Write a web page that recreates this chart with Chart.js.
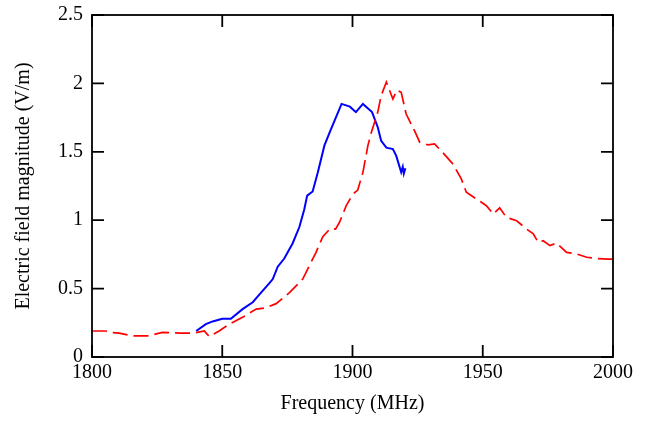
<!DOCTYPE html>
<html>
<head>
<meta charset="utf-8">
<script src="https://cdn.jsdelivr.net/npm/chart.js@4"></script>
<style>
  body { margin: 0; background: #fff; }
  #wrap { width: 655px; height: 421px; }
</style>
</head>
<body>
<div id="wrap"><canvas id="chart" width="655" height="421"></canvas></div>
<script>
// blue (solid) curve
const freqBlue = [1840, 1843.7, 1846.3, 1850, 1853.3, 1857.8, 1861.7, 1864.9, 1868.1, 1869.4,
  1871.3, 1873.8, 1877, 1879.6, 1881.5, 1882.6, 1884.7, 1886.7, 1889.2, 1891.2,
  1893.4, 1895.8, 1899, 1901.3, 1904, 1907.5, 1909.7, 1911, 1913, 1915.5,
  1916.8, 1918.7, 1919.3, 1919.7, 1920.3];
const fieldBlue = [0.19, 0.24, 0.26, 0.28, 0.28, 0.35, 0.40, 0.47, 0.54, 0.57,
  0.66, 0.72, 0.83, 0.95, 1.08, 1.18, 1.21, 1.35, 1.545, 1.64,
  1.74, 1.85, 1.83, 1.79, 1.85, 1.79, 1.68, 1.58, 1.53, 1.52,
  1.47, 1.35, 1.39, 1.34, 1.38];

// red (dashed) curve
const freqRed = [1800, 1805.3, 1807, 1810.4, 1815.5, 1821.9, 1827, 1833.5, 1839.2, 1843.1,
  1845, 1848.8, 1852.7, 1857.8, 1863, 1866.8, 1870.7, 1875.8, 1880.9, 1883.5,
  1886, 1888.6, 1891.5, 1893.5, 1895, 1897.6, 1900.1, 1902, 1904, 1905.9,
  1907.2, 1909.7, 1911, 1913, 1914.2, 1915.5, 1917, 1918.7, 1920.6, 1923.8,
  1925.8, 1929, 1931.5, 1934.4, 1938.6, 1941.8, 1943.7, 1947.6, 1951.4, 1954,
  1956.5, 1959.1, 1963, 1966.8, 1969.4, 1971.3, 1973.2, 1975.8, 1978.3, 1982.2,
  1986, 1989.9, 1993.7, 1998.2, 2000];
const fieldRed = [0.19, 0.19, 0.18, 0.175, 0.155, 0.155, 0.18, 0.175, 0.175, 0.19,
  0.15, 0.19, 0.24, 0.29, 0.35, 0.36, 0.39, 0.47, 0.57, 0.67,
  0.765, 0.88, 0.94, 0.935, 0.985, 1.106, 1.19, 1.22, 1.35, 1.545,
  1.64, 1.79, 1.91, 2.01, 1.95, 1.886, 1.95, 1.935, 1.776, 1.654,
  1.57, 1.55, 1.557, 1.50, 1.41, 1.30, 1.204, 1.155, 1.106, 1.045,
  1.09, 1.02, 0.996, 0.936, 0.9, 0.838, 0.85, 0.814, 0.833, 0.765,
  0.753, 0.729, 0.72, 0.716, 0.715];

function toPoints(xs, ys) {
    return xs.map((x, i) => ({ x: x, y: ys[i] }));
}

// draws the box and the inward ticks on all four sides
const frameTicks = {
    id: 'frameTicks',
    afterDraw(chart) {
        const ctx = chart.ctx;
        const a = chart.chartArea;
        const xs = chart.scales.x;
        const ys = chart.scales.y;
        const len = 12;
        ctx.save();
        ctx.strokeStyle = '#000';
        ctx.lineWidth = 1.8;
        ctx.strokeRect(a.left, a.top, a.right - a.left, a.bottom - a.top);
        ctx.beginPath();
        xs.ticks.forEach(t => {
            let px = xs.getPixelForValue(t.value);
            ctx.moveTo(px, a.bottom);
            ctx.lineTo(px, a.bottom - len);
            ctx.moveTo(px, a.top);
            ctx.lineTo(px, a.top + len);
        });
        ys.ticks.forEach(t => {
            let py = ys.getPixelForValue(t.value);
            ctx.moveTo(a.left, py);
            ctx.lineTo(a.left + len, py);
            ctx.moveTo(a.right, py);
            ctx.lineTo(a.right - len, py);
        });
        ctx.stroke();
        ctx.restore();
    }
};

const font = { family: 'Liberation Serif', size: 20 };

new Chart(document.getElementById('chart').getContext('2d'), {
    type: 'line',
    data: {
        datasets: [{
            data: toPoints(freqRed, fieldRed),
            borderColor: '#ff0000',
            borderWidth: 1.7,
            borderDash: [15, 6],
            pointRadius: 0,
            fill: false,
            tension: 0
        }, {
            data: toPoints(freqBlue, fieldBlue),
            borderColor: '#0000ff',
            borderWidth: 2,
            pointRadius: 0,
            fill: false,
            tension: 0
        }]
    },
    options: {
        responsive: false,
        animation: false,
        layout: { padding: { top: 15, right: 42, left: 0, bottom: 0 } },
        plugins: {
            legend: { display: false },
            tooltip: { enabled: false }
        },
        scales: {
            x: {
                type: 'linear',
                min: 1800,
                max: 2000,
                grid: { display: false, drawTicks: false, tickLength: 0 },
                border: { display: false },
                ticks: {
                    stepSize: 50,
                    color: '#000',
                    font: font,
                    padding: 4,
                    maxRotation: 0,
                    callback: v => String(v)
                },
                title: {
                    display: true,
                    text: 'Frequency (MHz)',
                    color: '#000',
                    font: font,
                    padding: { top: 0, bottom: 5 }
                },
                afterFit: s => { s.height = 64; }
            },
            y: {
                min: 0,
                max: 2.5,
                grid: { display: false, drawTicks: false, tickLength: 0 },
                border: { display: false },
                ticks: {
                    stepSize: 0.5,
                    color: '#000',
                    font: font,
                    padding: 9,
                    callback: v => String(v)
                },
                title: {
                    display: true,
                    text: 'Electric field magnitude (V/m)',
                    color: '#000',
                    font: font,
                    padding: { top: 12, bottom: 0 }
                },
                afterFit: s => {
                    s.width = 92;
                    s.paddingTop = 0;
                    s.paddingBottom = 0;
                }
            }
        }
    },
    plugins: [frameTicks]
});
</script>
</body>
</html>
